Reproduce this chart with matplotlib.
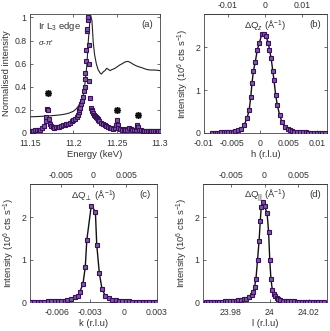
import matplotlib
matplotlib.use("Agg")
import matplotlib.pyplot as plt
import numpy as np

plt.rcParams['font.family'] = ['Liberation Sans', 'DejaVu Sans']
plt.rcParams['mathtext.fontset'] = 'custom'
plt.rcParams['mathtext.rm'] = 'Liberation Sans'
plt.rcParams['mathtext.it'] = 'Liberation Sans:italic'
FS = 6.3
TXT = '#333333'

# ---------------- data ----------------
# (a) energy scan
energy = [11.150, 11.152, 11.154, 11.156, 11.158, 11.160, 11.162, 11.164, 11.166, 11.168,
          11.169, 11.170, 11.171, 11.172, 11.173, 11.174, 11.176, 11.178, 11.180, 11.182,
          11.184, 11.186, 11.188, 11.190, 11.192, 11.194, 11.196, 11.198, 11.200, 11.202,
          11.204, 11.205, 11.206, 11.207, 11.208, 11.209, 11.210, 11.211, 11.212, 11.213,
          11.2135, 11.214, 11.2145, 11.215, 11.2155, 11.216, 11.2165, 11.217, 11.2175, 11.218,
          11.2185, 11.219, 11.220, 11.221, 11.222, 11.223, 11.224, 11.225, 11.226, 11.227,
          11.228, 11.229, 11.230, 11.232, 11.234, 11.236, 11.238, 11.240, 11.242, 11.244,
          11.246, 11.248, 11.249, 11.250, 11.251, 11.252, 11.254, 11.256, 11.258, 11.260,
          11.262, 11.264, 11.266, 11.268, 11.270, 11.272, 11.273, 11.274, 11.275, 11.276,
          11.278, 11.280, 11.282, 11.284, 11.286, 11.288, 11.290, 11.292, 11.294, 11.296,
          11.298, 11.300]
res_int = [0.02, 0.02, 0.02, 0.025, 0.025, 0.03, 0.03, 0.04, 0.06, 0.10,
           0.14, 0.21, 0.20, 0.12, 0.08, 0.06, 0.05, 0.045, 0.05, 0.05,
           0.055, 0.06, 0.065, 0.07, 0.075, 0.08, 0.09, 0.10, 0.11, 0.12,
           0.14, 0.16, 0.18, 0.20, 0.22, 0.25, 0.28, 0.31, 0.36, 0.40,
           0.47, 0.52, 0.62, 0.72, 0.88, 0.90, 0.98, 1.00, 0.76, 0.60,
           0.45, 0.30, 0.22, 0.20, 0.19, 0.17, 0.16, 0.15, 0.14, 0.13,
           0.12, 0.11, 0.10, 0.09, 0.08, 0.07, 0.06, 0.05, 0.045, 0.04,
           0.035, 0.04, 0.07, 0.11, 0.07, 0.04, 0.035, 0.03, 0.035, 0.03,
           0.03, 0.04, 0.035, 0.03, 0.03, 0.03, 0.05, 0.07, 0.05, 0.03,
           0.025, 0.02, 0.02, 0.02, 0.02, 0.018, 0.018, 0.018, 0.018, 0.018,
           0.018, 0.018]
fluo_e = [11.150, 11.160, 11.170, 11.180, 11.185, 11.190, 11.195, 11.200, 11.2035, 11.206,
          11.209, 11.2115, 11.2135, 11.2155, 11.2173, 11.219, 11.220, 11.2215, 11.223, 11.2245,
          11.2265, 11.2285, 11.2308, 11.2325, 11.2346, 11.2365, 11.2385, 11.2405, 11.2423, 11.245,
          11.248, 11.251, 11.2538, 11.2565, 11.2596, 11.263, 11.266, 11.269, 11.273, 11.277,
          11.281, 11.2846, 11.289, 11.294, 11.300]
fluo_int = [0.14, 0.143, 0.147, 0.153, 0.157, 0.163, 0.172, 0.188, 0.21, 0.235,
            0.28, 0.33, 0.43, 0.58, 0.80, 0.96, 1.02, 0.97, 0.78, 0.68,
            0.60, 0.55, 0.52, 0.51, 0.53, 0.54, 0.56, 0.55, 0.54, 0.55,
            0.56, 0.575, 0.59, 0.60, 0.615, 0.62, 0.61, 0.595, 0.58, 0.57,
            0.56, 0.55, 0.545, 0.545, 0.54]
star_e = [11.171, 11.2505, 11.2745]
star_int = [0.35, 0.20, 0.16]

# (b) h scan
h_val = [-0.0085, -0.0081, -0.0077, -0.0073, -0.0069, -0.0065, -0.0061, -0.0057, -0.0053, -0.0049,
         -0.0045, -0.0040, -0.0034, -0.0029, -0.0024, -0.0020, -0.0017, -0.0015, -0.00125, -0.0009,
         -0.00054, -0.0002, 0.00027, 0.00065, 0.0010, 0.0014, 0.0016, 0.0019, 0.0022, 0.0024,
         0.0027, 0.0030, 0.0034, 0.0038, 0.0043, 0.0048, 0.0052, 0.0056, 0.0060, 0.0065,
         0.0070, 0.0075, 0.0080, 0.0085, 0.0090, 0.0095, 0.0100, 0.0105, 0.0110, 0.0115]
h_int = [0.01, 0.01, 0.01, 0.01, 0.012, 0.015, 0.02, 0.025, 0.03, 0.035,
         0.04, 0.06, 0.10, 0.18, 0.34, 0.53, 0.85, 1.16, 1.44, 1.67,
         1.95, 2.10, 2.32, 2.32, 2.26, 2.10, 1.95, 1.75, 1.44, 1.24,
         0.89, 0.65, 0.42, 0.26, 0.14, 0.09, 0.06, 0.045, 0.03, 0.025,
         0.02, 0.015, 0.012, 0.01, 0.01, 0.01, 0.01, 0.01, 0.01, 0.01]

# (c) k scan
k_val = [-0.0083, -0.0080, -0.0077, -0.0074, -0.0071, -0.0068, -0.0065, -0.0062, -0.0059, -0.0056,
         -0.0053, -0.0051, -0.0047, -0.0044, -0.0041, -0.00394, -0.00365, -0.00344, -0.0033, -0.0029,
         -0.00253, -0.00241, -0.00218, -0.00194, -0.00165, -0.00135, -0.0010, -0.0007, -0.0004, -0.0001,
         0.0002, 0.0005, 0.0008, 0.0011, 0.0014, 0.0017, 0.0020, 0.0023, 0.0026, 0.0029]
k_int = [0.01, 0.01, 0.01, 0.01, 0.01, 0.012, 0.012, 0.015, 0.018, 0.02,
         0.03, 0.04, 0.08, 0.12, 0.15, 0.23, 0.42, 0.82, 1.46, 2.27,
         2.13, 1.35, 0.69, 0.31, 0.15, 0.10, 0.05, 0.04, 0.03, 0.02,
         0.015, 0.012, 0.01, 0.01, 0.01, 0.01, 0.01, 0.01, 0.01, 0.01]

# (d) l scan
l_val = [23.967, 23.9684, 23.9698, 23.9712, 23.9726, 23.974, 23.9754, 23.9768, 23.9782, 23.9796,
         23.981, 23.9824, 23.9838, 23.9852, 23.9866, 23.988, 23.9894, 23.9906, 23.9914, 23.9922,
         23.9929, 23.9937, 23.9945, 23.9951, 23.9956, 23.9963, 23.9973, 23.9986, 23.9994, 24.0000,
         24.0006, 24.0013, 24.0021, 24.0029, 24.0037, 24.0045, 24.0055, 24.0068, 24.0082, 24.0096,
         24.011, 24.0124, 24.0138, 24.0152, 24.0166, 24.018, 24.0194, 24.0208, 24.0222, 24.0236,
         24.025, 24.0264, 24.0278]
l_int = [0.01, 0.01, 0.01, 0.01, 0.01, 0.01, 0.01, 0.012, 0.015, 0.02,
         0.025, 0.03, 0.04, 0.05, 0.06, 0.08, 0.12, 0.16, 0.24, 0.36,
         0.55, 0.99, 1.44, 1.90, 2.23, 2.35, 2.25, 2.10, 1.66, 0.99,
         0.55, 0.29, 0.20, 0.13, 0.09, 0.06, 0.04, 0.03, 0.025, 0.02,
         0.015, 0.012, 0.01, 0.01, 0.01, 0.01, 0.01, 0.01, 0.01, 0.01,
         0.01, 0.01, 0.01]

# ---------------- figure ----------------
W, H = 330, 331
fig = plt.figure(figsize=(3.3, 3.31), dpi=100)

def box(l, r, t, b):
    return [l / W, (H - b) / H, (r - l) / W, (b - t) / H]

mfc = '#7b5a9e'
mec = '#3a0f5c'
ms = 3.0

def style(ax):
    ax.tick_params(direction='in', length=2.5, width=0.5, labelsize=FS, colors=TXT,
                   top=True, right=True, pad=2.5)
    ax.tick_params(axis='x', pad=4)
    for s in ax.spines.values():
        s.set_linewidth(0.6)
        s.set_color('#444444')

# (a)
axa = fig.add_axes(box(30, 160, 14, 133))
axa.plot(fluo_e, fluo_int, color='#222222', lw=0.8, zorder=2)
axa.plot(energy, res_int, 's', ms=ms, mfc=mfc, mec=mec, mew=0.8, zorder=3)
axa.plot(star_e, star_int, marker=(8, 2, 0), ms=5, ls='none', color='#111111', mew=1.0, zorder=4)
axa.plot(star_e, star_int, 's', ms=2.3, ls='none', color='#111111', zorder=4)
axa.set_xlim(11.15, 11.3)
axa.set_ylim(0, 1.03)
axa.set_xticks([11.15, 11.2, 11.25, 11.3])
axa.set_xticklabels(['11.15', '11.2', '11.25', '11.3'])
axa.set_yticks([0, 0.2, 0.4, 0.6, 0.8, 1])
axa.set_yticklabels(['0', '0.2', '0.4', '0.6', '0.8', '1'])
axa.set_xlabel('Energy (keV)', fontsize=FS + 0.5, color=TXT, labelpad=2)
axa.set_ylabel('Normalised intensity', fontsize=FS + 0.5, color=TXT, labelpad=2)
style(axa)
axa.text(0.06, 0.95, 'Ir L$_3$ edge', transform=axa.transAxes, fontsize=FS + 0.5,
         color=TXT, va='top', ha='left')
axa.text(0.06, 0.80, "$\\sigma$-$\\pi$'", transform=axa.transAxes, fontsize=FS - 0.5,
         color=TXT, va='top', ha='left')
axa.text(0.95, 0.95, '(a)', transform=axa.transAxes, fontsize=FS + 0.5,
         color=TXT, va='top', ha='right')

def scan_panel(rect, x, y, xlim, xticks, xticklabels, xlabel, q_scale, q0, qticks,
               qticklabels, qlabel, tag):
    ax = fig.add_axes(rect)
    ax.plot(x, y, color='#111111', lw=1.0, zorder=2)
    ax.plot(x, y, 's', ms=ms, mfc=mfc, mec=mec, mew=0.8, zorder=3)
    ax.set_xlim(*xlim)
    ax.set_ylim(0, 2.78)
    ax.set_xticks(xticks)
    ax.set_xticklabels(xticklabels)
    ax.set_yticks([0, 1, 2])
    ax.set_xlabel(xlabel, fontsize=FS + 0.5, color=TXT, labelpad=2)
    ax.set_ylabel('Intensity (10$^6$ cts s$^{-1}$)', fontsize=FS + 0.5, color=TXT, labelpad=3)
    style(ax)
    ax.tick_params(top=False)
    sec = ax.secondary_xaxis('top', functions=(lambda v: (v - q0) * q_scale,
                                               lambda q: q / q_scale + q0))
    sec.set_xticks(qticks)
    sec.set_xticklabels(qticklabels)
    sec.tick_params(direction='in', length=2.5, width=0.5, labelsize=FS, colors=TXT, pad=3)
    sec.spines['top'].set_linewidth(0.6)
    ax.text(0.5, 0.97, qlabel, transform=ax.transAxes, fontsize=FS + 0.5, color=TXT,
            va='top', ha='center')
    ax.text(0.95, 0.95, tag, transform=ax.transAxes, fontsize=FS + 0.5, color=TXT,
            va='top', ha='right')
    return ax

scan_panel(box(204, 327, 14, 133), h_val, h_int, (-0.0100, 0.0118),
           [-0.01, -0.005, 0, 0.005, 0.01], ['-0.01', '-0.005', '0', '0.005', '0.01'],
           'h (r.l.u)', 1.53, 0.0008, [-0.01, 0, 0.01], ['-0.01', '0', '0.01'],
           'ΔQ$_z$ (Å$^{-1}$)', '(b)')
scan_panel(box(30, 157, 184, 302), k_val, k_int, (-0.0084, 0.0030),
           [-0.006, -0.003, 0, 0.003], ['-0.006', '-0.003', '0', '0.003'],
           'k (r.l.u)', 1.69, -0.0027, [-0.005, 0, 0.005], ['-0.005', '0', '0.005'],
           'ΔQ$_\\perp$ (Å$^{-1}$)', '(c)')
scan_panel(box(203, 327, 184, 302), l_val, l_int, (23.9656, 24.0295),
           [23.98, 24.0, 24.02], ['23.98', '24', '24.02'],
           'l (r.l.u)', 0.288, 23.9973, [-0.005, 0, 0.005], ['-0.005', '0', '0.005'],
           'ΔQ$_{||}$ (Å$^{-1}$)', '(d)')

fig.savefig('out.png', dpi=100)
